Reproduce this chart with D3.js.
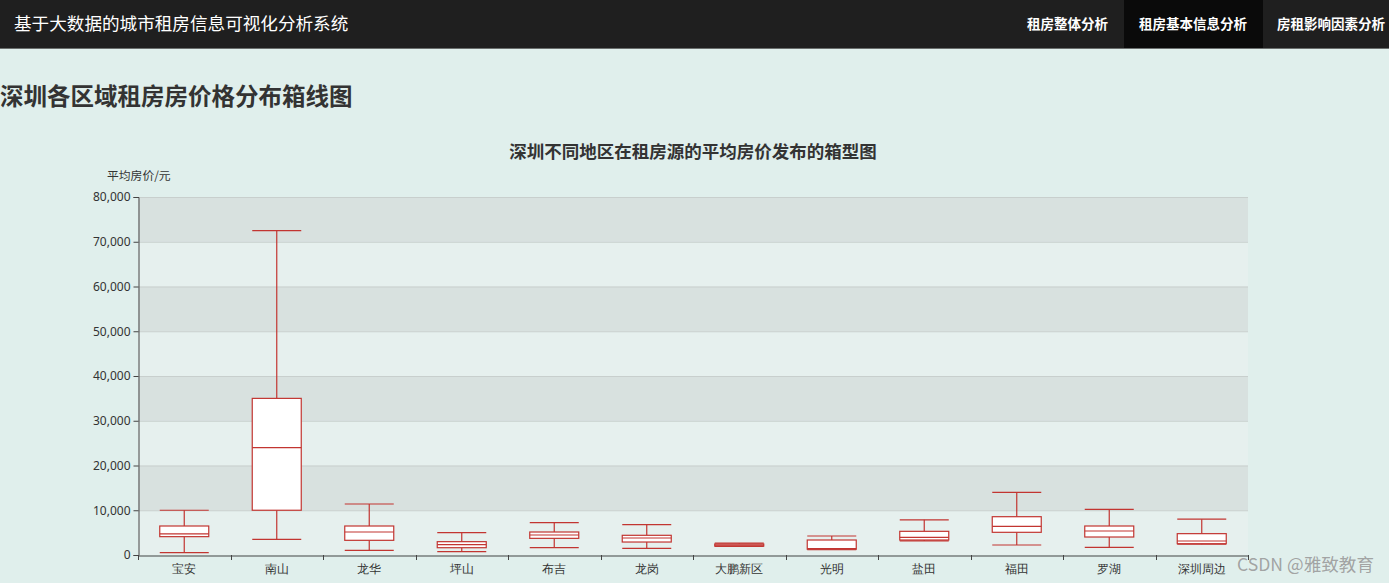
<!DOCTYPE html>
<html><head><meta charset="utf-8">
<script src="https://cdn.jsdelivr.net/npm/d3@7/dist/d3.min.js"></script>
<style>
html,body{margin:0;padding:0;width:1389px;height:583px;overflow:hidden;background:#e0efec;font-family:"Noto Sans CJK SC","Noto Sans",sans-serif;}
svg{display:block;}
</style></head><body>
<svg id="c" width="1389" height="583"></svg>
<script>
const categories = ["宝安","南山","龙华","坪山","布吉","龙岗","大鹏新区","光明","盐田","福田","罗湖","深圳周边"];
const lowValues    = [520, 3500, 1050, 740, 1640, 1490, 1900, 1200, 3150, 2230, 1720, 2400];
const q1Values     = [4100, 10000, 3280, 1630, 3720, 2900, 2000, 1300, 3350, 5070, 4020, 2530];
const medianValues = [4700, 24000, 5140, 2300, 4470, 3800, 2200, 1450, 3950, 6410, 5360, 3130];
const q3Values     = [6480, 35000, 6480, 2980, 5140, 4400, 2450, 3350, 5290, 8560, 6480, 4770];
const highValues   = [10000, 72500, 11400, 5000, 7220, 6780, 2650, 4250, 7850, 14000, 10200, 8000];
const yTicks = [0,10000,20000,30000,40000,50000,60000,70000,80000];
const navItems = ["租房整体分析","租房基本信息分析","房租影响因素分析"];

const svg = d3.select("#c");
// navbar
svg.append("rect").attr("x",0).attr("y",0).attr("width",1389).attr("height",48).attr("fill","#1f1f1f");
svg.append("rect").attr("x",0).attr("y",48).attr("width",1389).attr("height",1).attr("fill","#6a6e6d");
svg.append("text").attr("x",14).attr("y",30).attr("fill","#fff").attr("font-size",17.6).text("基于大数据的城市租房信息可视化分析系统");
const navX = [1027,1139,1277];
svg.append("rect").attr("x",1124).attr("y",0).attr("width",139).attr("height",48).attr("fill","#0a0a0a");
navItems.forEach((t,i)=>{
  svg.append("text").attr("x",navX[i]).attr("y",29).attr("fill","#fff").attr("font-size",13.5).attr("font-weight","bold").text(t);
});
// heading
svg.append("text").attr("x",0).attr("y",105).attr("fill","#333").attr("font-size",23.5).attr("font-weight","bold").text("深圳各区域租房房价格分布箱线图");
// chart title
svg.append("text").attr("x",693).attr("y",158).attr("text-anchor","middle").attr("fill","#333").attr("font-size",17.5).attr("font-weight","bold").text("深圳不同地区在租房源的平均房价发布的箱型图");

const L=138, R=1248, T=197, B=555;
const x = d3.scaleBand().domain(categories).range([L,R]);
const y = d3.scaleLinear().domain([0,80000]).range([B,T]);

// split area bands
const g = svg.append("g");
for(let i=0;i<yTicks.length-1;i++){
  const top = yTicks.length-2-i;
  g.append("rect").attr("x",L).attr("width",R-L)
   .attr("y",y(yTicks[i+1])).attr("height",y(yTicks[i])-y(yTicks[i+1]))
   .attr("fill", (top%2===0)?"#d8e1df":"#e6f0ee");
}
// grid lines
yTicks.forEach(v=>{
  if(v===0) return;
  g.append("line").attr("x1",L).attr("x2",R).attr("y1",y(v)+0.5).attr("y2",y(v)+0.5).attr("stroke","#c8cfcd").attr("stroke-width",1);
});

// y axis
const yAxis = d3.axisLeft(y).tickValues(yTicks).tickFormat(d3.format(",")).tickSize(5).tickPadding(3);
const ya = svg.append("g").attr("transform",`translate(${L+0.5},0)`).call(yAxis);
ya.select(".domain").attr("stroke","#444");
ya.selectAll(".tick line").attr("stroke","#444");
ya.selectAll("text").attr("fill","#333").attr("font-size",12).attr("font-family","Noto Sans, sans-serif");
svg.append("text").attr("x",107).attr("y",180).attr("fill","#333").attr("font-size",11.8).text("平均房价/元");

// x axis
const xAxis = d3.axisBottom(x).tickSize(0).tickPadding(9);
const xa = svg.append("g").attr("transform",`translate(0,${B+0.5})`).call(xAxis);
xa.select(".domain").attr("stroke","#444");
xa.selectAll("text").attr("fill","#333").attr("font-size",12);
const bounds = categories.map(c=>x(c)).concat([R]);
bounds.forEach(b=>{
  svg.append("line").attr("x1",Math.round(b)+0.5).attr("x2",Math.round(b)+0.5).attr("y1",B).attr("y2",B+5).attr("stroke","#444");
});

// boxes
const bw = 49;
const col = "#c23531";
const bg = svg.append("g").attr("fill","none").attr("stroke",col).attr("stroke-width",1.2);
categories.forEach((c,i)=>{
  const cx = x(c)+x.bandwidth()/2;
  const x0 = cx-bw/2, x1 = cx+bw/2;
  bg.append("line").attr("x1",cx).attr("x2",cx).attr("y1",y(highValues[i])).attr("y2",y(q3Values[i]));
  bg.append("line").attr("x1",cx).attr("x2",cx).attr("y1",y(q1Values[i])).attr("y2",y(lowValues[i]));
  bg.append("line").attr("x1",x0).attr("x2",x1).attr("y1",y(highValues[i])).attr("y2",y(highValues[i]));
  bg.append("line").attr("x1",x0).attr("x2",x1).attr("y1",y(lowValues[i])).attr("y2",y(lowValues[i]));
  bg.append("rect").attr("x",x0).attr("width",bw).attr("y",y(q3Values[i])).attr("height",y(q1Values[i])-y(q3Values[i])).attr("fill","#fff");
  bg.append("line").attr("x1",x0).attr("x2",x1).attr("y1",y(medianValues[i])).attr("y2",y(medianValues[i]));
});

// watermark
svg.append("text").attr("x",1237).attr("y",571).attr("fill","#9a9a9a").attr("fill-opacity",0.9).attr("font-size",17.6).text("CSDN @雅致教育");
</script>
</body></html>
